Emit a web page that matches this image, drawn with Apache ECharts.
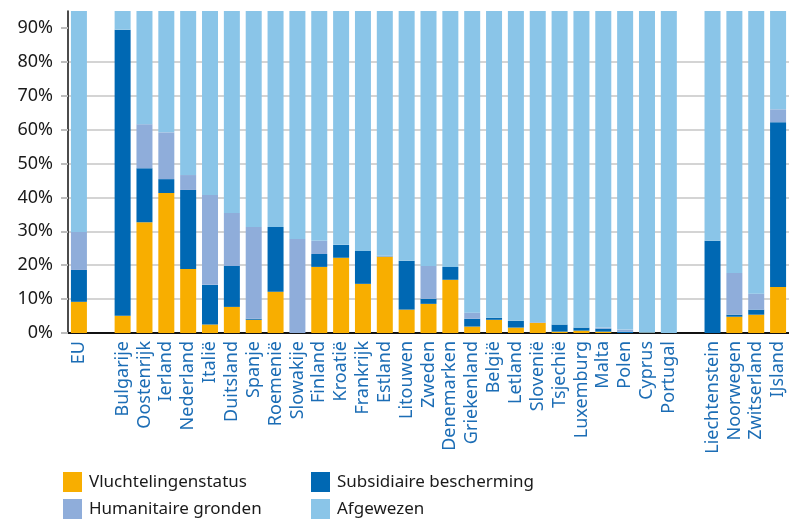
<!DOCTYPE html>
<html>
<head>
<meta charset="utf-8">
<script src="https://cdn.jsdelivr.net/npm/echarts@6/dist/echarts.min.js"></script>
<style>
  html, body { margin: 0; padding: 0; background: #fff; }
  #chart { width: 789px; height: 520px; }
</style>
</head>
<body>
<div id="chart"></div>
<script>
// Asylum decisions by outcome, share of all decisions per country (%).
// Empty category names are spacer columns between the groups.
const categories = [
  'EU', '',
  'Bulgarije', 'Oostenrijk', 'Ierland', 'Nederland', 'Italië', 'Duitsland', 'Spanje',
  'Roemenië', 'Slowakije', 'Finland', 'Kroatië', 'Frankrijk', 'Estland', 'Litouwen',
  'Zweden', 'Denemarken', 'Griekenland', 'België', 'Letland', 'Slovenië', 'Tsjechië',
  'Luxemburg', 'Malta', 'Polen', 'Cyprus', 'Portugal', '',
  'Liechtenstein', 'Noorwegen', 'Zwitserland', 'IJsland'
];

const vluchtelingenstatus = [
  9.2, null,
  5.1, 32.7, 41.3, 18.9, 2.5, 7.7, 3.9,
  12.2, 0, 19.5, 22.2, 14.5, 22.5, 6.9,
  8.6, 15.7, 1.9, 3.9, 1.6, 3.0, 0.4,
  0.7, 0.4, 0, 0.1, 0, null,
  0, 4.8, 5.4, 13.6
];

const subsidiaireBescherming = [
  9.4, null,
  84.4, 15.9, 4.1, 23.3, 11.7, 12.1, 0.3,
  19.1, 0, 3.8, 3.8, 9.7, 0.1, 14.4,
  1.5, 3.8, 2.3, 0.6, 2.0, 0, 2.1,
  0.9, 0.9, 0.4, 0, 0, null,
  27.2, 0.6, 1.5, 48.6
];

const humanitaireGronden = [
  11.2, null,
  0, 13.0, 13.8, 4.4, 26.5, 15.6, 27.1,
  0, 27.7, 3.9, 0, 0, 0.2, 0,
  9.7, 0, 1.8, 0, 0, 0.2, 0,
  0, 0.3, 0.6, 0, 0, null,
  0, 12.3, 4.7, 3.8
];

const afgewezen = [
  70.2, null,
  10.5, 38.4, 40.8, 53.4, 59.3, 64.6, 68.7,
  68.7, 72.3, 72.8, 74.0, 75.8, 77.2, 78.7,
  80.2, 80.5, 94.0, 95.5, 96.4, 96.8, 97.5,
  98.4, 98.4, 99.0, 99.9, 100, null,
  72.8, 82.3, 88.4, 34.0
];

const yTicks = [0, 10, 20, 30, 40, 50, 60, 70, 80, 90];

const seriesDefs = [
  { name: 'Vluchtelingenstatus', data: vluchtelingenstatus, color: '#f8ae00' },
  { name: 'Subsidiaire bescherming', data: subsidiaireBescherming, color: '#0068b3' },
  { name: 'Humanitaire gronden', data: humanitaireGronden, color: '#8fadda' },
  { name: 'Afgewezen', data: afgewezen, color: '#8ac5e8' }
];

// Legend grid: two columns, two rows
const legendSlots = [
  { name: 'Vluchtelingenstatus', left: 63, top: 472 },
  { name: 'Subsidiaire bescherming', left: 311, top: 472 },
  { name: 'Humanitaire gronden', left: 63, top: 499 },
  { name: 'Afgewezen', left: 311, top: 499 }
];

const FONT = '"Noto Sans", "Open Sans", sans-serif';

const chart = echarts.init(document.getElementById('chart'), null, { renderer: 'canvas' });

chart.setOption({
  animation: false,
  backgroundColor: '#fff',
  textStyle: { fontFamily: FONT },
  grid: { left: 68, top: 11, bottom: 187, width: 726, containLabel: false },
  legend: legendSlots.map(slot => ({
    left: slot.left,
    top: slot.top,
    padding: 0,
    itemWidth: 19,
    itemHeight: 20,
    icon: 'rect',
    selectedMode: false,
    data: [slot.name],
    textStyle: { fontFamily: FONT, fontSize: 17, color: '#1a1a1a', padding: [0, 0, 0, 2] }
  })),
  xAxis: {
    type: 'category',
    data: categories,
    axisLine: { show: true, lineStyle: { color: '#111', width: 2 } },
    axisTick: { show: false },
    axisLabel: {
      interval: 0,
      rotate: 90,
      margin: 8,
      fontFamily: FONT,
      fontSize: 18,
      color: '#1c6db5'
    }
  },
  yAxis: {
    type: 'value',
    min: 0,
    max: 95,
    interval: 10,
    axisLine: { show: true, lineStyle: { color: '#111', width: 1.5 } },
    axisTick: {
      show: true,
      length: 7,
      customValues: yTicks,
      lineStyle: { color: '#bdbdbd', width: 2 }
    },
    axisLabel: {
      customValues: yTicks,
      margin: 15,
      fontFamily: FONT,
      fontSize: 18,
      color: '#1a1a1a',
      formatter: '{value}%'
    },
    splitLine: {
      show: true,
      showMaxLine: false,
      lineStyle: { color: '#d4d4d4', width: 2 }
    }
  },
  series: seriesDefs.map(s => ({
    name: s.name,
    type: 'bar',
    stack: 'total',
    barWidth: 16,
    clip: true,
    data: s.data,
    itemStyle: { color: s.color },
    emphasis: { disabled: true }
  }))
});
</script>
</body>
</html>
